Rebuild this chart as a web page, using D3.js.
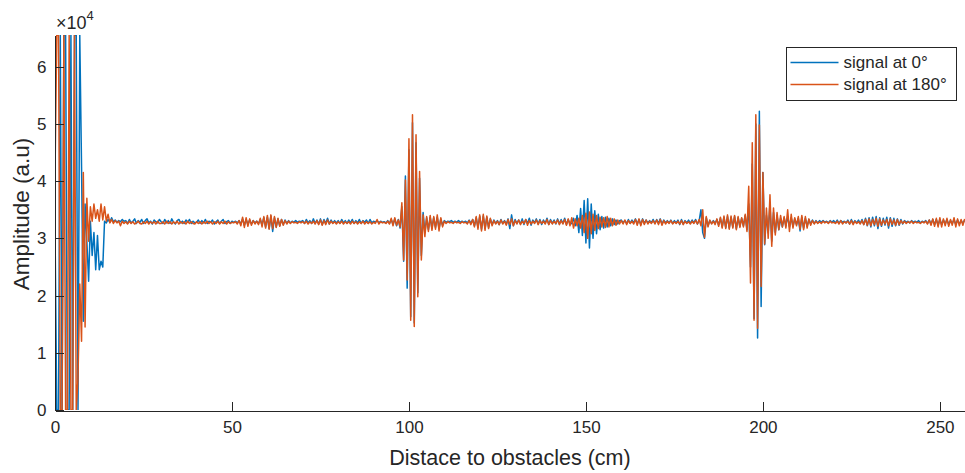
<!DOCTYPE html>
<html>
<head>
<meta charset="utf-8">
<script src="https://cdn.jsdelivr.net/npm/d3@7"></script>
<style>
  body { margin: 0; background: #fff; }
  svg { display: block; }
  text { font-family: "Liberation Sans", Arial, Helvetica, sans-serif; fill: #262626; }
</style>
</head>
<body>
<svg id="chart" width="965" height="473"></svg>
<script>
// Echo amplitude (units of 1e4 counts), one sample every 0.5 cm from 0 cm.
const sampleStep = 0.5;
const xTicks = [0, 50, 100, 150, 200, 250];
const yTicks = [0, 1, 2, 3, 4, 5, 6];
const seriesNames = ["signal at 0°", "signal at 180°"];
const seriesColors = ["#0072BD", "#D95319"];

const signal0 = [
  3.20,0,0,6.55,0,6.55,6.55,0,0,6.55,0,6.55,6.55,0,6.55,4.25,1.55,3.60,2.95,2.25,
  3.30,2.70,3.10,2.45,3.05,2.45,2.60,2.50,3.30,3.27,3.33,3.28,3.36,3.29,3.32,3.28,3.31,3.29,3.33,3.30,
  3.31,3.26,3.33,3.27,3.30,3.34,3.26,3.31,3.28,3.33,3.26,3.31,3.34,3.27,3.30,3.25,3.32,3.29,3.27,3.33,
  3.29,3.26,3.33,3.27,3.31,3.26,3.34,3.28,3.25,3.31,3.33,3.27,3.30,3.26,3.32,3.28,3.33,3.26,3.30,3.27,
  3.28,3.32,3.26,3.31,3.27,3.33,3.26,3.30,3.28,3.32,3.25,3.29,3.32,3.26,3.30,3.33,3.26,3.29,3.31,3.26,
  3.30,3.28,3.30,3.27,3.31,3.25,3.34,3.23,3.33,3.24,3.32,3.25,3.31,3.27,3.30,3.26,3.33,3.23,3.36,3.20,
  3.37,3.17,3.39,3.12,3.36,3.20,3.34,3.22,3.33,3.24,3.32,3.26,3.31,3.27,3.30,3.28,3.31,3.28,3.30,3.29,
  3.31,3.26,3.33,3.27,3.31,3.26,3.34,3.26,3.32,3.25,3.34,3.24,3.33,3.26,3.35,3.25,3.32,3.27,3.31,3.27,
  3.31,3.26,3.33,3.27,3.31,3.26,3.32,3.27,3.33,3.26,3.31,3.27,3.33,3.26,3.31,3.28,3.32,3.26,3.33,3.27,
  3.30,3.28,3.31,3.27,3.30,3.28,3.29,3.27,3.31,3.26,3.33,3.24,3.34,3.22,3.33,3.18,3.55,2.60,4.09,2.13,
  4.55,1.63,5.02,1.52,4.67,2.05,4.05,2.70,3.45,3.10,3.36,3.15,3.37,3.17,3.36,3.19,3.37,3.17,3.34,3.23,
  3.31,3.28,3.30,3.29,3.31,3.28,3.30,3.28,3.31,3.28,3.30,3.28,3.30,3.27,3.32,3.26,3.33,3.22,3.36,3.19,
  3.38,3.16,3.39,3.17,3.37,3.19,3.34,3.24,3.32,3.26,3.31,3.24,3.33,3.26,3.31,3.25,3.34,3.17,3.41,3.22,
  3.33,3.26,3.32,3.25,3.34,3.24,3.33,3.26,3.35,3.23,3.32,3.27,3.34,3.25,3.33,3.24,3.32,3.26,3.35,3.24,
  3.33,3.26,3.32,3.25,3.34,3.25,3.33,3.26,3.35,3.24,3.33,3.25,3.26,3.35,3.22,3.40,3.10,3.52,3.05,3.66,
  2.92,3.69,2.83,3.60,3.00,3.48,3.08,3.42,3.15,3.38,3.18,3.37,3.20,3.35,3.22,3.34,3.24,3.32,3.25,3.31,
  3.32,3.27,3.31,3.26,3.33,3.26,3.32,3.27,3.34,3.25,3.33,3.24,3.34,3.26,3.32,3.27,3.31,3.27,3.33,3.26,
  3.33,3.26,3.34,3.25,3.32,3.27,3.31,3.27,3.32,3.26,3.31,3.27,3.32,3.24,3.33,3.25,3.31,3.27,3.32,3.26,
  3.32,3.27,3.33,3.25,3.31,3.50,3.10,3.00,3.36,3.22,3.31,3.26,3.31,3.26,3.33,3.23,3.35,3.20,3.37,3.19,
  3.38,3.18,3.37,3.20,3.38,3.17,3.36,3.21,3.35,3.22,3.40,3.15,3.60,2.50,4.30,1.60,5.00,1.26,5.22,1.81,
  4.15,2.89,3.40,3.10,3.60,2.95,3.45,3.10,3.40,3.15,3.35,3.20,3.36,3.22,3.38,3.20,3.36,3.21,3.34,3.24,
  3.35,3.13,3.37,3.18,3.35,3.21,3.33,3.25,3.32,3.26,3.31,3.27,3.31,3.28,3.31,3.28,3.30,3.27,3.31,3.28,
  3.31,3.27,3.32,3.26,3.31,3.28,3.30,3.27,3.32,3.25,3.33,3.26,3.31,3.27,3.32,3.26,3.33,3.24,3.35,3.22,
  3.36,3.20,3.37,3.22,3.38,3.17,3.36,3.21,3.35,3.23,3.37,3.18,3.36,3.21,3.35,3.22,3.34,3.23,3.33,3.25,
  3.31,3.28,3.30,3.27,3.31,3.28,3.30,3.28,3.31,3.27,3.30,3.28,3.31,3.26,3.32,3.25,3.33,3.24,3.33,3.23,
  3.33,3.24,3.32,3.25,3.33,3.24,3.31,3.26,3.33,3.24,3.32,3.25,3.31,3.26,3.32
];

const signal180 = [
  4.10,6.55,6.55,0,0,6.55,0,0,6.55,0,0,6.55,0,0.55,2.20,1.20,4.15,1.45,3.70,2.95,
  3.55,3.30,3.60,3.35,3.50,3.30,3.60,3.32,3.55,3.30,3.42,3.27,3.33,3.26,3.31,3.27,3.30,3.22,3.30,3.26,
  3.29,3.25,3.30,3.26,3.29,3.25,3.27,3.30,3.26,3.25,3.29,3.26,3.30,3.25,3.29,3.26,3.29,3.25,3.30,3.26,
  3.26,3.29,3.25,3.30,3.26,3.29,3.25,3.29,3.26,3.30,3.25,3.29,3.26,3.29,3.25,3.30,3.26,3.29,3.26,3.25,
  3.29,3.26,3.29,3.25,3.29,3.26,3.30,3.26,3.29,3.25,3.29,3.26,3.30,3.25,3.29,3.26,3.30,3.25,3.29,3.26,
  3.28,3.27,3.29,3.25,3.31,3.22,3.37,3.19,3.36,3.21,3.34,3.23,3.31,3.25,3.30,3.24,3.35,3.20,3.38,3.18,
  3.40,3.16,3.41,3.17,3.38,3.19,3.35,3.21,3.33,3.23,3.31,3.25,3.30,3.26,3.29,3.27,3.28,3.26,3.29,3.27,
  3.29,3.26,3.30,3.25,3.29,3.26,3.30,3.25,3.31,3.24,3.32,3.23,3.31,3.24,3.32,3.25,3.30,3.26,3.29,3.25,
  3.29,3.26,3.30,3.25,3.29,3.26,3.29,3.25,3.30,3.26,3.29,3.25,3.29,3.26,3.30,3.25,3.29,3.26,3.29,3.25,
  3.28,3.26,3.33,3.25,3.29,3.27,3.28,3.26,3.30,3.25,3.35,3.22,3.36,3.23,3.32,3.20,3.62,2.62,4.02,2.27,
  4.74,1.57,5.16,1.46,4.81,1.98,4.17,2.62,3.41,3.03,3.38,3.12,3.40,3.14,3.38,3.16,3.41,3.13,3.36,3.20,
  3.30,3.26,3.29,3.27,3.28,3.26,3.29,3.27,3.28,3.26,3.29,3.27,3.28,3.25,3.31,3.24,3.33,3.20,3.38,3.16,
  3.41,3.13,3.42,3.14,3.39,3.17,3.35,3.22,3.31,3.25,3.30,3.24,3.32,3.25,3.30,3.23,3.33,3.24,3.34,3.22,
  3.31,3.25,3.32,3.24,3.30,3.26,3.33,3.23,3.31,3.25,3.30,3.26,3.32,3.24,3.31,3.26,3.30,3.25,3.33,3.24,
  3.31,3.25,3.30,3.26,3.32,3.24,3.31,3.25,3.33,3.23,3.34,3.22,3.36,3.18,3.34,3.22,3.35,3.18,3.40,3.10,
  3.44,3.00,3.46,3.08,3.42,3.14,3.40,3.17,3.37,3.20,3.36,3.19,3.38,3.20,3.35,3.22,3.34,3.23,3.32,3.25,
  3.31,3.25,3.32,3.24,3.31,3.26,3.30,3.25,3.33,3.23,3.34,3.22,3.33,3.24,3.32,3.25,3.30,3.26,3.31,3.25,
  3.32,3.24,3.33,3.23,3.31,3.25,3.30,3.26,3.31,3.25,3.29,3.26,3.30,3.25,3.31,3.24,3.30,3.26,3.29,3.25,
  3.30,3.26,3.31,3.25,3.33,3.22,3.50,3.02,3.38,3.20,3.32,3.25,3.30,3.24,3.34,3.21,3.37,3.18,3.39,3.17,
  3.41,3.16,3.39,3.18,3.40,3.15,3.38,3.19,3.36,3.20,3.42,3.12,3.91,2.22,4.67,1.57,5.16,1.43,4.98,2.16,
  4.15,2.90,3.53,3.00,3.76,2.86,3.53,3.06,3.45,3.15,3.40,3.20,3.38,3.18,3.50,3.12,3.42,3.18,3.36,3.22,
  3.38,3.16,3.40,3.15,3.38,3.18,3.34,3.23,3.31,3.25,3.30,3.26,3.29,3.26,3.30,3.27,3.29,3.26,3.30,3.27,
  3.28,3.26,3.30,3.25,3.31,3.25,3.29,3.27,3.30,3.25,3.31,3.24,3.30,3.26,3.29,3.25,3.31,3.24,3.33,3.23,
  3.34,3.22,3.33,3.24,3.35,3.21,3.34,3.23,3.32,3.25,3.33,3.22,3.34,3.24,3.32,3.23,3.33,3.24,3.31,3.26,
  3.30,3.26,3.29,3.27,3.30,3.26,3.29,3.27,3.28,3.26,3.29,3.27,3.30,3.25,3.32,3.23,3.34,3.21,3.35,3.20,
  3.36,3.20,3.34,3.22,3.35,3.21,3.33,3.23,3.36,3.20,3.34,3.22,3.33,3.23,3.34
];

const series = [signal0, signal180];

// Layout
const plot = { left: 55, right: 965, top: 35, bottom: 410 };
const axisColor = "#262626";
const fontStack = '"Liberation Sans", Arial, Helvetica, sans-serif';

const x = d3.scaleLinear().domain([0, 257.1]).range([plot.left, plot.right]);
const y = d3.scaleLinear().domain([0, 6.5535]).range([plot.bottom, plot.top]);

const svg = d3.select("#chart");

svg.append("defs").append("clipPath").attr("id", "plot-clip")
  .append("rect")
  .attr("x", plot.left).attr("y", plot.top)
  .attr("width", plot.right - plot.left).attr("height", plot.bottom - plot.top);

// Signal traces: 0° first, 180° drawn over it
const line = d3.line()
  .x((d, i) => x(i * sampleStep))
  .y(d => y(d));

svg.append("g").attr("clip-path", "url(#plot-clip)")
  .selectAll("path")
  .data(series)
  .join("path")
  .attr("d", line)
  .attr("fill", "none")
  .attr("stroke", (d, i) => seriesColors[i])
  .attr("stroke-width", 1.5)
  .attr("stroke-linejoin", "round");

// Axes with inward ticks
const xAxis = d3.axisBottom(x).tickValues(xTicks).tickFormat(d3.format("d"))
  .tickSizeInner(-9).tickSizeOuter(0).tickPadding(10);
const yAxis = d3.axisLeft(y).tickValues(yTicks).tickFormat(d3.format("d"))
  .tickSizeInner(-9).tickSizeOuter(0).tickPadding(8);

const gx = svg.append("g").attr("transform", `translate(0,${plot.bottom + 0.5})`).call(xAxis);
const gy = svg.append("g").attr("transform", `translate(${plot.left - 0.5},0)`).call(yAxis);

[gx, gy].forEach(g => {
  g.select(".domain").attr("stroke", axisColor).attr("stroke-width", 1).attr("shape-rendering", "crispEdges");
  g.selectAll(".tick line").attr("stroke", axisColor).attr("stroke-width", 1).attr("shape-rendering", "crispEdges");
  g.selectAll(".tick text").attr("font-size", 17).attr("fill", axisColor).attr("font-family", fontStack);
});

// Exponent marker above the y axis
const expo = svg.append("text").attr("x", 56).attr("y", 29).attr("font-size", 18);
expo.append("tspan").text("×10");
expo.append("tspan").attr("font-size", 13).attr("dy", -9).text("4");

// Axis titles
svg.append("text")
  .attr("x", (plot.left + plot.right) / 2).attr("y", 465)
  .attr("text-anchor", "middle").attr("font-size", 21.5)
  .text("Distace to obstacles (cm)");

svg.append("text")
  .attr("transform", "translate(29,214) rotate(-90)")
  .attr("text-anchor", "middle").attr("font-size", 22.5)
  .text("Amplitude (a.u)");

// Legend
const legend = svg.append("g").attr("transform", "translate(786.5,47.5)");
legend.append("rect").attr("width", 170).attr("height", 53)
  .attr("fill", "#fff").attr("stroke", axisColor).attr("stroke-width", 1);
const items = legend.selectAll("g.item").data(seriesNames).join("g")
  .attr("class", "item")
  .attr("transform", (d, i) => `translate(0,${15 + i * 22})`);
items.append("line").attr("x1", 4).attr("x2", 52)
  .attr("stroke", (d, i) => seriesColors[i]).attr("stroke-width", 1.5);
items.append("text").attr("x", 57).attr("dy", "0.35em").attr("font-size", 17).text(d => d);
</script>
</body>
</html>
